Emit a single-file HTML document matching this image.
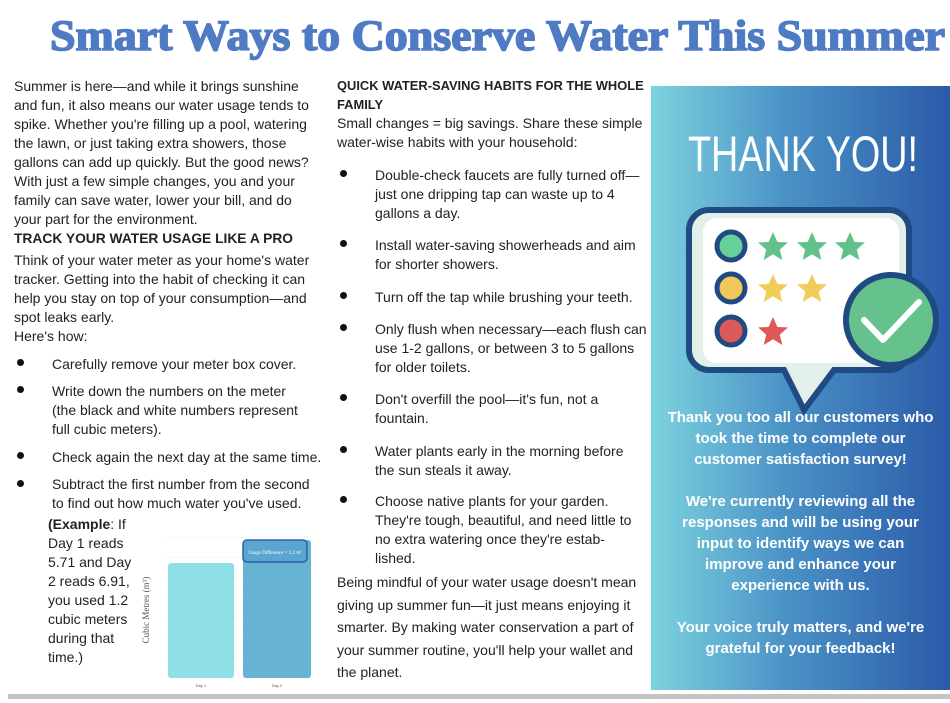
<!DOCTYPE html>
<html><head><meta charset="utf-8"><style>
*{margin:0;padding:0;box-sizing:border-box}
body{width:950px;height:703px;background:#fff;position:relative;overflow:hidden;font-family:"Liberation Sans",Arial,sans-serif;color:#222;font-size:14px}
.b{position:absolute;white-space:nowrap;line-height:19px}
.h{font-weight:bold;font-size:12.9px}
.dot{position:absolute;width:7px;height:7px;border-radius:50%;background:#111}
.panel{position:absolute;left:651px;top:86px;width:299px;height:604px;background:linear-gradient(90deg,#7dd3df 0%,#4a92c6 45%,#2b5aa8 100%)}
.pt{position:absolute;left:651px;width:299px;text-align:center;color:#fff;font-weight:bold;font-size:15px;line-height:21px;white-space:nowrap}
</style></head><body>
<svg style="position:absolute;left:0;top:0" width="950" height="70"><text x="50" y="50" textLength="895" lengthAdjust="spacingAndGlyphs" font-family="Liberation Serif,serif" font-weight="bold" font-size="43" fill="#4f7bc4" stroke="#4f7bc4" stroke-width="1.6">Smart Ways to Conserve Water This Summer</text></svg>

<div class="b" style="left:14px;top:77px">Summer is here—and while it brings sunshine<br>and fun, it also means our water usage tends to<br>spike. Whether you're filling up a pool, watering<br>the lawn, or just taking extra showers, those<br>gallons can add up quickly. But the good news?<br>With just a few simple changes, you and your<br>family can save water, lower your bill, and do<br>your part for the environment.</div>
<div class="b h" style="left:14px;top:229px;font-size:13.8px">TRACK YOUR WATER USAGE LIKE A PRO</div>
<div class="b" style="left:14px;top:251px">Think of your water meter as your home's water<br>tracker. Getting into the habit of checking it can<br>help you stay on top of your consumption—and<br>spot leaks early.<br>Here's how:</div>
<div class="dot" style="left:17px;top:359px"></div>
<div class="b" style="left:52px;top:355px">Carefully remove your meter box cover.</div>
<div class="dot" style="left:17px;top:386px"></div>
<div class="b" style="left:52px;top:382px">Write down the numbers on the meter<br>(the black and white numbers represent<br>full cubic meters).</div>
<div class="dot" style="left:17px;top:452px"></div>
<div class="b" style="left:52px;top:448px">Check again the next day at the same time.</div>
<div class="dot" style="left:17px;top:480px"></div>
<div class="b" style="left:52px;top:475px">Subtract the first number from the second<br>to find out how much water you've used.</div>
<div class="b" style="left:48px;top:515px"><b>(Example</b>: If<br>Day 1 reads<br>5.71 and Day<br>2 reads 6.91,<br>you used 1.2<br>cubic meters<br>during that<br>time.)</div>

<svg style="position:absolute;left:140px;top:530px" width="175" height="165">
<text x="9" y="80" transform="rotate(-90 9 80)" text-anchor="middle" font-family="Liberation Serif,serif" font-size="9" fill="#555">Cubic Metres (m³)</text>
<g stroke="#eee" stroke-width="0.5"><line x1="25" y1="7" x2="170" y2="7"/><line x1="25" y1="27" x2="170" y2="27"/><line x1="25" y1="47" x2="170" y2="47"/><line x1="25" y1="67" x2="170" y2="67"/><line x1="25" y1="87" x2="170" y2="87"/><line x1="25" y1="107" x2="170" y2="107"/><line x1="25" y1="127" x2="170" y2="127"/><line x1="25" y1="148" x2="170" y2="148"/></g>
<rect x="28" y="33" width="66" height="115" rx="3" fill="#8ee0e6"/>
<rect x="103" y="10" width="68" height="138" rx="3" fill="#66b3d2"/>
<rect x="103" y="10" width="64" height="22" rx="4" fill="#5aa6d0" stroke="#2e5fa8" stroke-width="1.5"/>
<text x="135" y="24" text-anchor="middle" font-size="5" fill="#fff" font-family="Liberation Serif,serif">Usage Difference = 1.2 m³</text>
<text x="61" y="157" text-anchor="middle" font-size="4" fill="#555">Day 1</text>
<text x="137" y="157" text-anchor="middle" font-size="4" fill="#555">Day 2</text>
</svg>

<div class="b h" style="left:337px;top:76px">QUICK WATER-SAVING HABITS FOR THE WHOLE<br>FAMILY</div>
<div class="b" style="left:337px;top:114px">Small changes = big savings. Share these simple<br>water-wise habits with your household:</div>
<div class="dot" style="left:340px;top:170px"></div>
<div class="b" style="left:375px;top:166px">Double-check faucets are fully turned off—<br>just one dripping tap can waste up to 4<br>gallons a day.</div>
<div class="dot" style="left:340px;top:240px"></div>
<div class="b" style="left:375px;top:236px">Install water-saving showerheads and aim<br>for shorter showers.</div>
<div class="dot" style="left:340px;top:292px"></div>
<div class="b" style="left:375px;top:288px">Turn off the tap while brushing your teeth.</div>
<div class="dot" style="left:340px;top:324px"></div>
<div class="b" style="left:375px;top:320px">Only flush when necessary—each flush can<br>use 1-2 gallons, or between 3 to 5 gallons<br>for older toilets.</div>
<div class="dot" style="left:340px;top:394px"></div>
<div class="b" style="left:375px;top:390px">Don't overfill the pool—it's fun, not a<br>fountain.</div>
<div class="dot" style="left:340px;top:446px"></div>
<div class="b" style="left:375px;top:442px">Water plants early in the morning before<br>the sun steals it away.</div>
<div class="dot" style="left:340px;top:496px"></div>
<div class="b" style="left:375px;top:492px">Choose native plants for your garden.<br>They're tough, beautiful, and need little to<br>no extra watering once they're estab-<br>lished.</div>
<div class="b" style="left:337px;top:571px;line-height:22.5px">Being mindful of your water usage doesn't mean<br>giving up summer fun—it just means enjoying it<br>smarter. By making water conservation a part of<br>your summer routine, you'll help your wallet and<br>the planet.</div>

<div class="panel"></div>
<svg style="position:absolute;left:651px;top:86px" width="299" height="330">
<text x="152" y="85" text-anchor="middle" font-family="Liberation Sans Narrow,Liberation Sans,sans-serif" font-size="50" fill="#fff" textLength="230" lengthAdjust="spacingAndGlyphs">THANK YOU!</text>
<path d="M58 124 h180 a20 20 0 0 1 20 20 v120 a20 20 0 0 1 -20 20 h-55 l-30 40 l-20 -40 h-75 a20 20 0 0 1 -20 -20 v-120 a20 20 0 0 1 20 -20z" fill="#e3efe9" stroke="#1f4a82" stroke-width="6"/>
<rect x="52" y="132" width="196" height="145" rx="14" fill="#fff"/>
<g stroke="#1f4a82" stroke-width="5"><circle cx="80" cy="160" r="14" fill="#65d09a"/><circle cx="80" cy="202" r="14" fill="#efc95a"/><circle cx="80" cy="245" r="14" fill="#dd5a5a"/></g>
<defs><polygon id="s" points="0,-15 4.4,-5 15,-4.6 6.8,2.6 9.3,13 0,7.2 -9.3,13 -6.8,2.6 -15,-4.6 -4.4,-5"/></defs>
<use href="#s" x="122" y="161" fill="#62c189"/><use href="#s" x="161" y="161" fill="#62c189"/><use href="#s" x="199" y="161" fill="#62c189"/>
<use href="#s" x="122" y="203" fill="#f0cc58"/><use href="#s" x="161" y="203" fill="#f0cc58"/>
<use href="#s" x="122" y="246" fill="#de5858"/>
<circle cx="240" cy="234" r="45" fill="#66c28c" stroke="#1f4a82" stroke-width="6"/>
<polyline points="213,234 232,254 268,216" fill="none" stroke="#fff" stroke-width="6" stroke-linecap="round" stroke-linejoin="round"/>
</svg>
<div class="pt" style="top:407px">Thank you too all our customers who<br>took the time to complete our<br>customer satisfaction survey!</div>
<div class="pt" style="top:491px">We're currently reviewing all the<br>responses and will be using your<br>input to identify ways we can<br>improve and enhance your<br>experience with us.</div>
<div class="pt" style="top:617px">Your voice truly matters, and we're<br>grateful for your feedback!</div>
<div style="position:absolute;left:8px;top:694px;width:942px;height:5px;background:#c4c4c4"></div>
</body></html>
